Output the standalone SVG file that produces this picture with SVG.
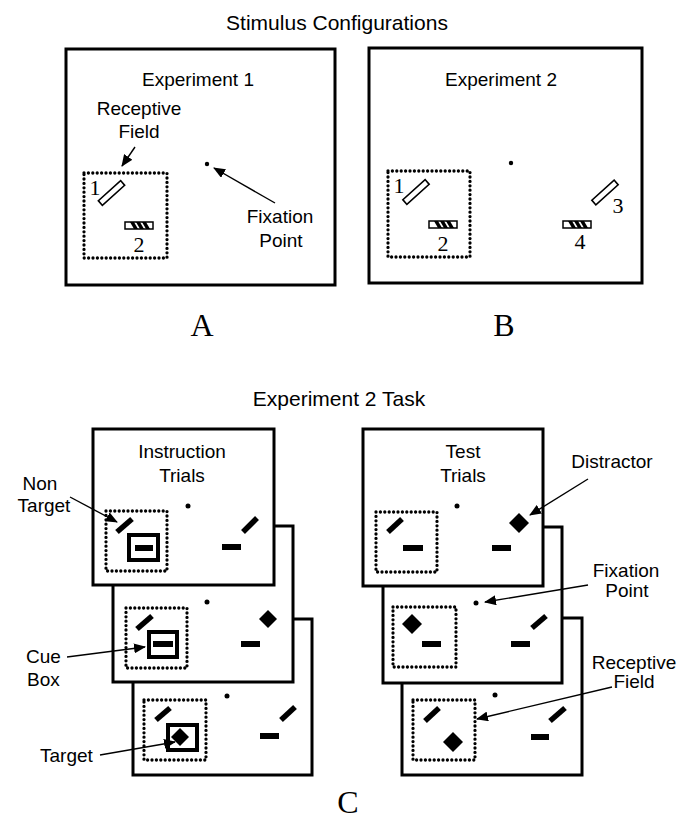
<svg xmlns="http://www.w3.org/2000/svg" width="680" height="822" viewBox="0 0 680 822">
<style>
.lbl{font-family:"Liberation Sans",Arial,sans-serif;font-size:19px;fill:#000}
.ttl{font-family:"Liberation Sans",Arial,sans-serif;font-size:21px;fill:#000}
.num{font-family:"Liberation Serif","Times New Roman",serif;font-size:22px;fill:#000}
.big{font-family:"Liberation Serif","Times New Roman",serif;font-size:32px;fill:#000}
.panel{fill:#fff;stroke:#000;stroke-width:3}
.rf{fill:none;stroke:#000;stroke-width:3.3;stroke-dasharray:0 4.4;stroke-linecap:round}
.slant{stroke:#000;stroke-width:5.5;stroke-linecap:butt}
.cue{fill:#fff;stroke:#000;stroke-width:4}
.conn{stroke:#000;stroke-width:1.4;fill:none;marker-end:url(#ah)}
.open{fill:#fff;stroke:#000;stroke-width:1.6}
</style>
<defs>
<marker id="ah" markerUnits="userSpaceOnUse" markerWidth="12" markerHeight="10" refX="11" refY="5" orient="auto">
<path d="M0,0 L12,5 L0,10 Z" fill="#000"/>
</marker>
<g id="hbar">
<rect x="0" y="0" width="28" height="7" fill="#fff" stroke="#000" stroke-width="1.5"/>
<polygon points="5,0 9,0 13,7 9,7" fill="#000"/>
<polygon points="11,0 15,0 19,7 15,7" fill="#000"/>
<polygon points="17,0 21,0 25,7 21,7" fill="#000"/>
</g>
</defs>

<text class="ttl" x="337" y="30" text-anchor="middle">Stimulus Configurations</text>

<g id="panelA">
<rect class="panel" x="66" y="49" width="269" height="236"/>
<text class="lbl" x="198" y="86" text-anchor="middle">Experiment 1</text>
<text class="lbl" x="139" y="115" text-anchor="middle">Receptive</text>
<text class="lbl" x="139" y="138" text-anchor="middle">Field</text>
<rect class="rf" x="84" y="173" width="83" height="85"/>
<rect class="open" x="96.5" y="190" width="30" height="6" transform="rotate(-42 111.5 193)"/>
<text class="num" x="95" y="195" text-anchor="middle">1</text>
<use href="#hbar" transform="translate(125 222)"/>
<text class="num" x="139" y="252" text-anchor="middle">2</text>
<circle cx="207" cy="164" r="2.2" fill="#000"/>
<text class="lbl" x="280" y="223" text-anchor="middle">Fixation</text>
<text class="lbl" x="281" y="247" text-anchor="middle">Point</text>
</g>

<g id="panelB">
<rect class="panel" x="369" y="48" width="273" height="235"/>
<text class="lbl" x="501" y="86" text-anchor="middle">Experiment 2</text>
<circle cx="511" cy="163" r="2.2" fill="#000"/>
<rect class="rf" x="388" y="171" width="82" height="86"/>
<rect class="open" x="401" y="189" width="30" height="6" transform="rotate(-42 416 192)"/>
<text class="num" x="399" y="193" text-anchor="middle">1</text>
<use href="#hbar" transform="translate(429 221)"/>
<text class="num" x="443" y="251" text-anchor="middle">2</text>
<rect class="open" x="590" y="189.5" width="30" height="6" transform="rotate(-42 605 192.5)"/>
<text class="num" x="618" y="213" text-anchor="middle">3</text>
<use href="#hbar" transform="translate(563 221)"/>
<text class="num" x="580" y="249" text-anchor="middle">4</text>
</g>

<text class="big" x="202" y="336" text-anchor="middle">A</text>
<text class="big" x="504" y="336" text-anchor="middle">B</text>

<text class="ttl" x="339" y="406" text-anchor="middle">Experiment 2 Task</text>

<g id="instr3">
<rect class="panel" x="133" y="619" width="179" height="156"/>
<circle cx="227" cy="696" r="2.5" fill="#000"/>
<rect class="rf" x="144" y="700" width="62" height="60"/>
<line class="slant" x1="156" y1="720" x2="170" y2="708"/>
<rect class="cue" x="168" y="725" width="29" height="25"/>
<polygon points="180,728 189,737 180,746 171,737" fill="#000"/>
<line class="slant" x1="281" y1="720" x2="295" y2="707"/>
<rect x="260" y="733" width="19" height="6" fill="#000"/>
</g>

<g id="instr2">
<rect class="panel" x="113" y="526" width="180" height="156"/>
<circle cx="207" cy="602" r="2.5" fill="#000"/>
<rect class="rf" x="126" y="608" width="61" height="60"/>
<line class="slant" x1="137" y1="629" x2="152" y2="616"/>
<rect class="cue" x="149" y="632" width="28" height="25"/>
<rect x="153" y="641" width="20" height="6" fill="#000"/>
<polygon points="268,610 277,619 268,628 259,619" fill="#000"/>
<rect x="241" y="641" width="19" height="6" fill="#000"/>
</g>

<g id="instr1">
<rect class="panel" x="93" y="429" width="181" height="156"/>
<text class="lbl" x="182" y="458" text-anchor="middle">Instruction</text>
<text class="lbl" x="182" y="482" text-anchor="middle">Trials</text>
<circle cx="188" cy="506" r="2.5" fill="#000"/>
<rect class="rf" x="106" y="511" width="61" height="60"/>
<line class="slant" x1="117" y1="532" x2="132" y2="519"/>
<rect class="cue" x="129" y="535" width="29" height="25"/>
<rect x="135" y="545" width="18" height="6" fill="#000"/>
<line class="slant" x1="243" y1="532" x2="257" y2="518"/>
<rect x="222" y="544" width="19" height="6" fill="#000"/>
</g>

<g id="test3">
<rect class="panel" x="402" y="618" width="180" height="157"/>
<circle cx="495" cy="695" r="2.5" fill="#000"/>
<rect class="rf" x="413" y="700" width="62" height="60"/>
<line class="slant" x1="425" y1="721" x2="439" y2="708"/>
<polygon points="453,732 463,742 453,752 443,742" fill="#000"/>
<line class="slant" x1="550" y1="721" x2="565" y2="708"/>
<rect x="531" y="734" width="18" height="6" fill="#000"/>
</g>

<g id="test2">
<rect class="panel" x="383" y="527" width="179" height="156"/>
<circle cx="476" cy="603" r="2.5" fill="#000"/>
<rect class="rf" x="393" y="607" width="63" height="60"/>
<polygon points="412,614 422,624 412,634 402,624" fill="#000"/>
<rect x="422" y="641" width="19" height="6" fill="#000"/>
<line class="slant" x1="532" y1="628" x2="546" y2="616"/>
<rect x="511" y="641" width="19" height="6" fill="#000"/>
</g>

<g id="test1">
<rect class="panel" x="363" y="429" width="180" height="157"/>
<text class="lbl" x="463" y="458" text-anchor="middle">Test</text>
<text class="lbl" x="463" y="482" text-anchor="middle">Trials</text>
<circle cx="457" cy="506" r="2.5" fill="#000"/>
<rect class="rf" x="376" y="512" width="61" height="60"/>
<line class="slant" x1="388" y1="532" x2="402" y2="519"/>
<rect x="403" y="545" width="20" height="6" fill="#000"/>
<polygon points="519,513 529,523 519,533 509,523" fill="#000"/>
<rect x="492" y="545" width="19" height="6" fill="#000"/>
</g>

<g id="labels">
<text class="lbl" x="40" y="490" text-anchor="middle">Non</text>
<text class="lbl" x="44" y="512" text-anchor="middle">Target</text>
<text class="lbl" x="26" y="663">Cue</text>
<text class="lbl" x="27" y="686">Box</text>
<text class="lbl" x="40" y="762">Target</text>
<text class="lbl" x="612" y="468" text-anchor="middle">Distractor</text>
<text class="lbl" x="626" y="577" text-anchor="middle">Fixation</text>
<text class="lbl" x="627" y="597" text-anchor="middle">Point</text>
<text class="lbl" x="634" y="669" text-anchor="middle">Receptive</text>
<text class="lbl" x="634" y="688" text-anchor="middle">Field</text>
</g>

<text class="big" x="348" y="813" text-anchor="middle" font-size="30">C</text>

<g id="connectors">
<line class="conn" x1="135" y1="147" x2="122" y2="166"/>
<line class="conn" x1="275" y1="203" x2="214" y2="168"/>
<line class="conn" x1="70" y1="497" x2="117" y2="522"/>
<line class="conn" x1="67" y1="657" x2="145" y2="647"/>
<line class="conn" x1="100" y1="755" x2="175" y2="742"/>
<line class="conn" x1="588" y1="479" x2="530" y2="515"/>
<line class="conn" x1="588" y1="585" x2="485" y2="602"/>
<line class="conn" x1="612" y1="687" x2="477" y2="719"/>
</g>
</svg>
